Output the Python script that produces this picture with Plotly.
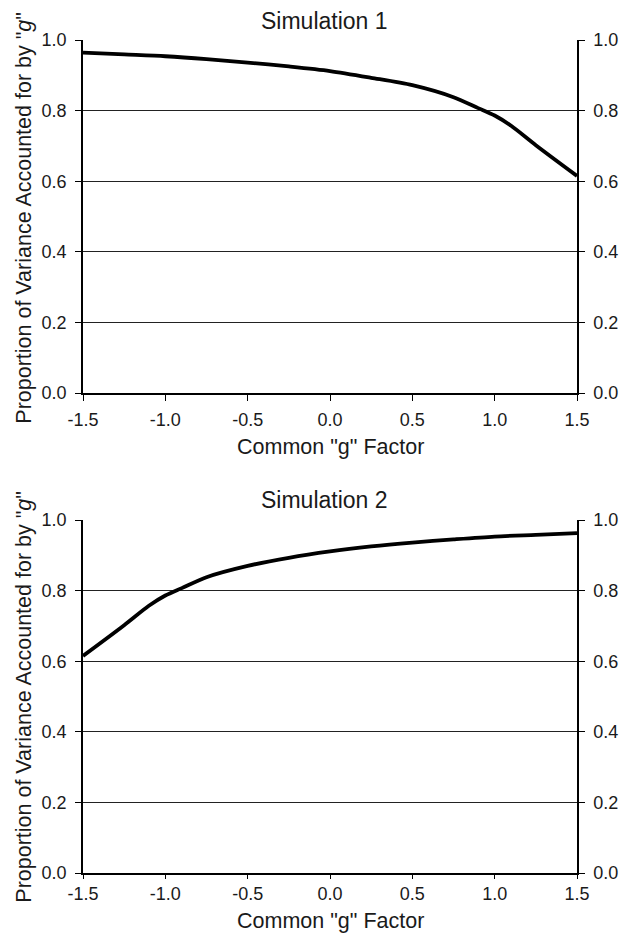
import plotly.graph_objects as go

# ---- data ----
x_sim1 = [-1.5, -1.25, -1.0, -0.75, -0.5, -0.25, 0.0, 0.25, 0.5, 0.75, 0.9, 1.0, 1.1, 1.25, 1.5]
y_sim1 = [0.964, 0.959, 0.954, 0.946, 0.936, 0.925, 0.912, 0.893, 0.872, 0.838, 0.807, 0.786, 0.757, 0.702, 0.615]

x_sim2 = [-1.5, -1.25, -1.1, -1.0, -0.9, -0.75, -0.5, -0.25, 0.0, 0.25, 0.5, 0.75, 1.0, 1.25, 1.5]
y_sim2 = [0.615, 0.702, 0.757, 0.786, 0.807, 0.838, 0.870, 0.893, 0.911, 0.925, 0.936, 0.945, 0.953, 0.958, 0.963]

x_ticks = [-1.5, -1.0, -0.5, 0.0, 0.5, 1.0, 1.5]
x_tick_labels = ["-1.5", "-1.0", "-0.5", "0.0", "0.5", "1.0", "1.5"]
y_ticks = [0.0, 0.2, 0.4, 0.6, 0.8, 1.0]
y_tick_labels = ["0.0", "0.2", "0.4", "0.6", "0.8", "1.0"]

titles = ["Simulation 1", "Simulation 2"]
x_title = 'Common "g" Factor'
y_title = 'Proportion of Variance Accounted for by "<i>g</i>"'

# ---- layout geometry (page pixels; page body has an 8px margin) ----
OFF = 8
W, H = 630 - OFF, 933 - OFF
ML, MR, MT, MB = 83 - OFF, 43, 40 - OFF, 60 - OFF
PH = H - MT - MB
PW = W - ML - MR

def py(p):  # page pixel y -> paper y
    return (H - MB - (p - OFF)) / PH

def px(p):  # page pixel x -> paper x
    return ((p - OFF) - ML) / PW

FONT = "Liberation Sans, Arial, Helvetica, sans-serif"
TXT = "#1a1a1a"

fig = go.Figure()
fig.add_trace(go.Scatter(x=x_sim1, y=y_sim1, mode="lines", xaxis="x", yaxis="y",
                         line=dict(color="black", width=3.8, shape="spline", smoothing=0.8),
                         showlegend=False, hoverinfo="x+y"))
fig.add_trace(go.Scatter(x=x_sim1, y=y_sim1, mode="lines", xaxis="x", yaxis="y2",
                         line=dict(color="rgba(0,0,0,0)", width=0), showlegend=False, hoverinfo="skip"))
fig.add_trace(go.Scatter(x=x_sim2, y=y_sim2, mode="lines", xaxis="x2", yaxis="y3",
                         line=dict(color="black", width=3.8, shape="spline", smoothing=0.8),
                         showlegend=False, hoverinfo="x+y"))
fig.add_trace(go.Scatter(x=x_sim2, y=y_sim2, mode="lines", xaxis="x2", yaxis="y4",
                         line=dict(color="rgba(0,0,0,0)", width=0), showlegend=False, hoverinfo="skip"))

tickfont = dict(family=FONT, size=18, color=TXT)

xcommon = dict(range=[-1.5, 1.5], tickmode="array", tickvals=x_ticks, ticktext=x_tick_labels,
               ticks="outside", tickwidth=1.3, tickcolor="black",
               showline=True, linecolor="black", linewidth=1.5, showgrid=False, zeroline=False,
               tickfont=tickfont, domain=[0, 1])
ycommon = dict(range=[0, 1.0], tickmode="array", tickvals=y_ticks, ticktext=y_tick_labels,
               ticks="outside", ticklen=6, tickwidth=1.3, tickcolor="black",
               showline=True, linecolor="black", linewidth=1.5, zeroline=False,
               tickfont=tickfont, ticklabelstandoff=5)

top_dom = [py(393), py(40)]
bot_dom = [py(873), py(520)]

fig.update_layout(
    width=W, height=H,
    margin=dict(l=ML, r=MR, t=MT, b=MB),
    paper_bgcolor="white", plot_bgcolor="white",
    font=dict(family=FONT, color=TXT),
    xaxis=dict(xcommon, anchor="y", ticklen=6, ticklabelstandoff=4),
    xaxis2=dict(xcommon, anchor="y3", ticklen=4, ticklabelstandoff=0),
    yaxis=dict(ycommon, domain=top_dom, anchor="x", side="left",
               showgrid=True, gridcolor="#222", gridwidth=1),
    yaxis2=dict(ycommon, domain=top_dom, anchor="x", overlaying="y", side="right", showgrid=False),
    yaxis3=dict(ycommon, domain=bot_dom, anchor="x2", side="left",
                showgrid=True, gridcolor="#222", gridwidth=1),
    yaxis4=dict(ycommon, domain=bot_dom, anchor="x2", overlaying="y3", side="right", showgrid=False),
)

ann = []
for title, ty, xty, ymid in [(titles[0], 21, 447, (40 + 393) / 2 + 1), (titles[1], 500, 921, (520 + 873) / 2)]:
    ann.append(dict(text=title, x=px(329), y=py(ty), xref="paper", yref="paper",
                    xanchor="center", yanchor="middle", showarrow=False,
                    font=dict(family=FONT, size=23, color=TXT)))
    ann.append(dict(text=x_title, x=px(336), y=py(xty), xref="paper", yref="paper",
                    xanchor="center", yanchor="middle", showarrow=False,
                    font=dict(family=FONT, size=21.5, color=TXT)))
    ann.append(dict(text=y_title, x=px(22), y=py(ymid), xref="paper", yref="paper",
                    xanchor="center", yanchor="middle", showarrow=False, textangle=-90,
                    font=dict(family=FONT, size=21.5, color=TXT)))
fig.update_layout(annotations=ann)

fig.write_html("out.html")
